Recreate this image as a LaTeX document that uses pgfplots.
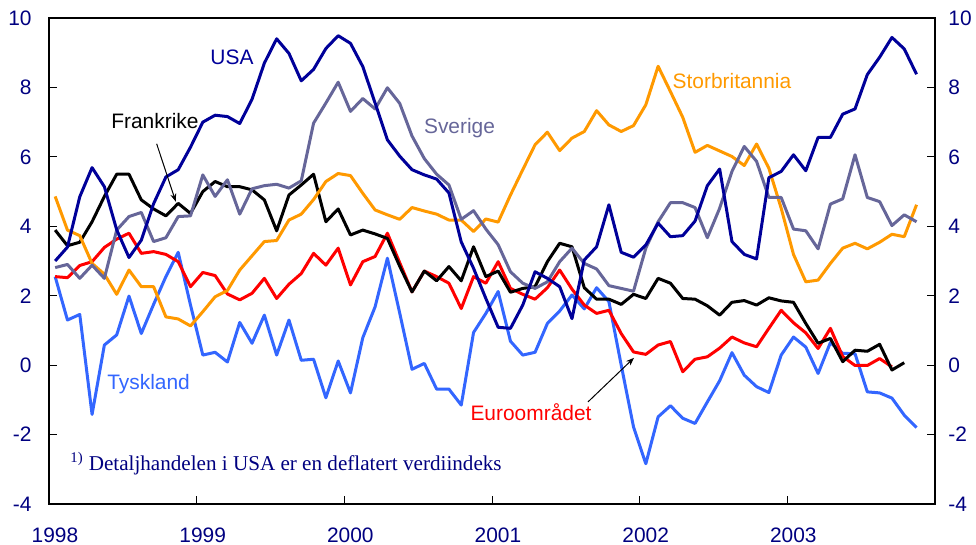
\documentclass[border=0pt]{standalone}
\usepackage{fontspec}
\setmainfont{Liberation Sans}
\newfontfamily\timesfont{Liberation Serif}
\usepackage{pgfplots}
\pgfplotsset{compat=1.18}
\usetikzlibrary{arrows.meta}
\definecolor{navytxt}{RGB}{0,0,128}
\definecolor{usa}{RGB}{0,0,153}
\definecolor{sve}{RGB}{102,102,153}
\definecolor{gbr}{RGB}{255,153,0}
\definecolor{deu}{RGB}{51,102,255}
\definecolor{eur}{RGB}{255,0,0}
\begin{document}
\begin{tikzpicture}
\pgfplotsset{
  base/.style={
    scale only axis, width=443bp, height=243bp,
    xmin=-0.5, xmax=71.5, ymin=-4, ymax=10,
    ytick={-4,-2,...,10},
    tick align=inside, major tick length=4bp,
    axis line style={line width=0.75bp},
    every tick/.style={black, line width=0.5bp},
    tick label style={font=\fontsize{10.5}{12}\selectfont, text=navytxt, /pgf/number format/assume math mode=true},
  },
  ser/.style={line width=1.5bp, line join=round, no markers},
}
\begin{axis}[base, name=ax,
  xtick={-0.5,11.5,23.5,35.5,47.5,59.5},
  xticklabels={1998,1999,2000,2001,2002,2003},
  xtick pos=lower, ytick pos=left,
  xticklabel style={anchor=north, inner sep=0pt, yshift=-11.5bp, xshift=3bp},
  yticklabel style={anchor=east, inner sep=0pt, xshift=-8.5bp},
]
% Tyskland
\addplot[ser, deu] coordinates {(0,2.55)(1,1.3)(2,1.46)(3,-1.42)(4,0.58)(5,0.87)(6,1.99)(7,0.91)(8,1.75)(9,2.55)(10,3.25)(11,1.73)(12,0.29)(13,0.37)(14,0.09)(15,1.23)(16,0.63)(17,1.44)(18,0.29)(19,1.3)(20,0.14)(21,0.17)(22,-0.94)(23,0.12)(24,-0.8)(25,0.79)(26,1.68)(27,3.08)(28,1.5)(29,-0.12)(30,0.05)(31,-0.69)(32,-0.69)(33,-1.15)(34,0.94)(35,1.49)(36,2.12)(37,0.69)(38,0.29)(39,0.37)(40,1.2)(41,1.56)(42,2.02)(43,1.62)(44,2.23)(45,1.83)(46,0.0)(47,-1.78)(48,-2.84)(49,-1.49)(50,-1.17)(51,-1.53)(52,-1.68)(53,-1.06)(54,-0.45)(55,0.36)(56,-0.29)(57,-0.62)(58,-0.79)(59,0.29)(60,0.81)(61,0.52)(62,-0.24)(63,0.65)(64,0.34)(65,0.33)(66,-0.77)(67,-0.8)(68,-0.95)(69,-1.44)(70,-1.8)};
% Euroomraadet
\addplot[ser, eur] coordinates {(0,2.55)(1,2.52)(2,2.87)(3,2.98)(4,3.39)(5,3.63)(6,3.8)(7,3.22)(8,3.27)(9,3.19)(10,2.98)(11,2.26)(12,2.67)(13,2.58)(14,2.05)(15,1.88)(16,2.07)(17,2.5)(18,1.92)(19,2.33)(20,2.64)(21,3.22)(22,2.88)(23,3.37)(24,2.31)(25,2.98)(26,3.13)(27,3.8)(28,2.95)(29,2.11)(30,2.71)(31,2.55)(32,2.36)(33,1.63)(34,2.55)(35,2.36)(36,2.98)(37,2.21)(38,2.04)(39,1.9)(40,2.23)(41,2.74)(42,2.19)(43,1.73)(44,1.49)(45,1.58)(46,0.91)(47,0.38)(48,0.31)(49,0.58)(50,0.68)(51,-0.19)(52,0.17)(53,0.24)(54,0.49)(55,0.81)(56,0.64)(57,0.53)(58,1.06)(59,1.58)(60,1.22)(61,0.93)(62,0.48)(63,1.06)(64,0.25)(65,-0.01)(66,-0.01)(67,0.19)(68,-0.05)};
% Frankrike
\addplot[ser, black] coordinates {(0,3.89)(1,3.44)(2,3.54)(3,4.13)(4,4.86)(5,5.5)(6,5.5)(7,4.76)(8,4.5)(9,4.3)(10,4.66)(11,4.37)(12,5.0)(13,5.29)(14,5.14)(15,5.14)(16,5.05)(17,4.76)(18,3.87)(19,4.9)(20,5.19)(21,5.5)(22,4.13)(23,4.5)(24,3.75)(25,3.89)(26,3.78)(27,3.65)(28,2.85)(29,2.11)(30,2.71)(31,2.43)(32,2.84)(33,2.43)(34,3.41)(35,2.55)(36,2.71)(37,2.1)(38,2.21)(39,2.26)(40,2.98)(41,3.51)(42,3.41)(43,2.23)(44,1.9)(45,1.9)(46,1.75)(47,2.04)(48,1.92)(49,2.5)(50,2.36)(51,1.92)(52,1.9)(53,1.71)(54,1.44)(55,1.81)(56,1.86)(57,1.73)(58,1.94)(59,1.85)(60,1.81)(61,1.2)(62,0.63)(63,0.77)(64,0.1)(65,0.43)(66,0.4)(67,0.6)(68,-0.14)(69,0.07)};
% Storbritannia
\addplot[ser, gbr] coordinates {(0,4.86)(1,3.89)(2,3.73)(3,2.93)(4,2.62)(5,2.04)(6,2.74)(7,2.26)(8,2.26)(9,1.39)(10,1.33)(11,1.13)(12,1.54)(13,1.97)(14,2.15)(15,2.74)(16,3.15)(17,3.56)(18,3.59)(19,4.18)(20,4.35)(21,4.77)(22,5.29)(23,5.52)(24,5.46)(25,4.95)(26,4.47)(27,4.33)(28,4.2)(29,4.54)(30,4.44)(31,4.35)(32,4.18)(33,4.18)(34,3.85)(35,4.21)(36,4.12)(37,4.9)(38,5.63)(39,6.35)(40,6.71)(41,6.18)(42,6.54)(43,6.73)(44,7.33)(45,6.92)(46,6.73)(47,6.9)(48,7.5)(49,8.61)(50,7.88)(51,7.14)(52,6.13)(53,6.33)(54,6.17)(55,6.01)(56,5.75)(57,6.37)(58,5.67)(59,4.52)(60,3.19)(61,2.4)(62,2.45)(63,2.93)(64,3.37)(65,3.51)(66,3.35)(67,3.54)(68,3.77)(69,3.7)(70,4.62)};
% Sverige
\addplot[ser, sve] coordinates {(0,2.81)(1,2.9)(2,2.5)(3,2.88)(4,2.5)(5,3.89)(6,4.28)(7,4.4)(8,3.56)(9,3.67)(10,4.28)(11,4.3)(12,5.48)(13,4.86)(14,5.34)(15,4.35)(16,5.08)(17,5.17)(18,5.21)(19,5.1)(20,5.31)(21,6.97)(22,7.55)(23,8.15)(24,7.31)(25,7.68)(26,7.38)(27,7.99)(28,7.54)(29,6.6)(30,5.95)(31,5.5)(32,5.19)(33,4.2)(34,4.45)(35,3.92)(36,3.47)(37,2.69)(38,2.36)(39,2.21)(40,2.4)(41,2.98)(42,3.37)(43,2.93)(44,2.77)(45,2.29)(46,2.21)(47,2.13)(48,3.37)(49,4.13)(50,4.68)(51,4.68)(52,4.54)(53,3.67)(54,4.52)(55,5.58)(56,6.3)(57,5.87)(58,4.83)(59,4.83)(60,3.92)(61,3.87)(62,3.35)(63,4.64)(64,4.79)(65,6.06)(66,4.83)(67,4.71)(68,4.02)(69,4.33)(70,4.13)};
% USA
\addplot[ser, usa] coordinates {(0,3.0)(1,3.4)(2,4.85)(3,5.69)(4,5.14)(5,3.9)(6,3.1)(7,3.6)(8,4.65)(9,5.42)(10,5.63)(11,6.28)(12,7.0)(13,7.2)(14,7.16)(15,6.96)(16,7.66)(17,8.7)(18,9.4)(19,8.98)(20,8.19)(21,8.52)(22,9.12)(23,9.49)(24,9.27)(25,8.6)(26,7.55)(27,6.49)(28,6.02)(29,5.63)(30,5.48)(31,5.36)(32,4.96)(33,3.55)(34,2.79)(35,1.92)(36,1.09)(37,1.06)(38,1.73)(39,2.69)(40,2.5)(41,2.26)(42,1.34)(43,3.03)(44,3.41)(45,4.62)(46,3.25)(47,3.11)(48,3.46)(49,4.09)(50,3.7)(51,3.73)(52,4.15)(53,5.17)(54,5.65)(55,3.56)(56,3.19)(57,3.06)(58,5.4)(59,5.58)(60,6.06)(61,5.6)(62,6.56)(63,6.56)(64,7.23)(65,7.38)(66,8.37)(67,8.87)(68,9.44)(69,9.11)(70,8.38)};
% labels
\node[anchor=base, text=usa, font=\fontsize{10.5}{12}\selectfont] at (axis cs:14.37,8.653) {USA};
\node[anchor=base, text=black, font=\fontsize{10.5}{12}\selectfont] at (axis cs:8.11,6.827) {Frankrike};
\node[anchor=base, text=sve, font=\fontsize{10.5}{12}\selectfont] at (axis cs:32.86,6.683) {Sverige};
\node[anchor=base, text=gbr, font=\fontsize{10.5}{12}\selectfont] at (axis cs:55.0,7.981) {Storbritannia};
\node[anchor=base, text=deu, font=\fontsize{10.5}{12}\selectfont] at (axis cs:7.59,-0.701) {Tyskland};
\node[anchor=base, text=eur, font=\fontsize{10.5}{12}\selectfont] at (axis cs:38.67,-1.586) {Euroområdet};
\draw[line width=0.5bp, -{Stealth[length=4bp,width=3bp]}] (axis cs:8.25,6.375) -- (axis cs:9.80,4.71);
\draw[line width=0.5bp, -{Stealth[length=4bp,width=3bp]}] (axis cs:43.30,-1.059) -- (axis cs:47.04,0.211);
\node[anchor=base west, inner sep=0pt, text=navytxt, font=\timesfont\fontsize{10.6}{12}\selectfont] at (axis cs:1.21,-3.03) {\textsuperscript{1)}\hspace{2.5bp}Detaljhandelen i USA er en deflatert verdiindeks};
\end{axis}
\begin{axis}[base,
  xtick=\empty,
  ytick pos=right, yticklabel pos=right,
  yticklabel style={anchor=west, inner sep=0pt, xshift=6.5bp},
]
\end{axis}
\pgfresetboundingbox
\path[use as bounding box] (ax.south west) ++(-24.5bp,-20.5bp) rectangle ++(488bp,272.5bp);
\end{tikzpicture}
\end{document}
